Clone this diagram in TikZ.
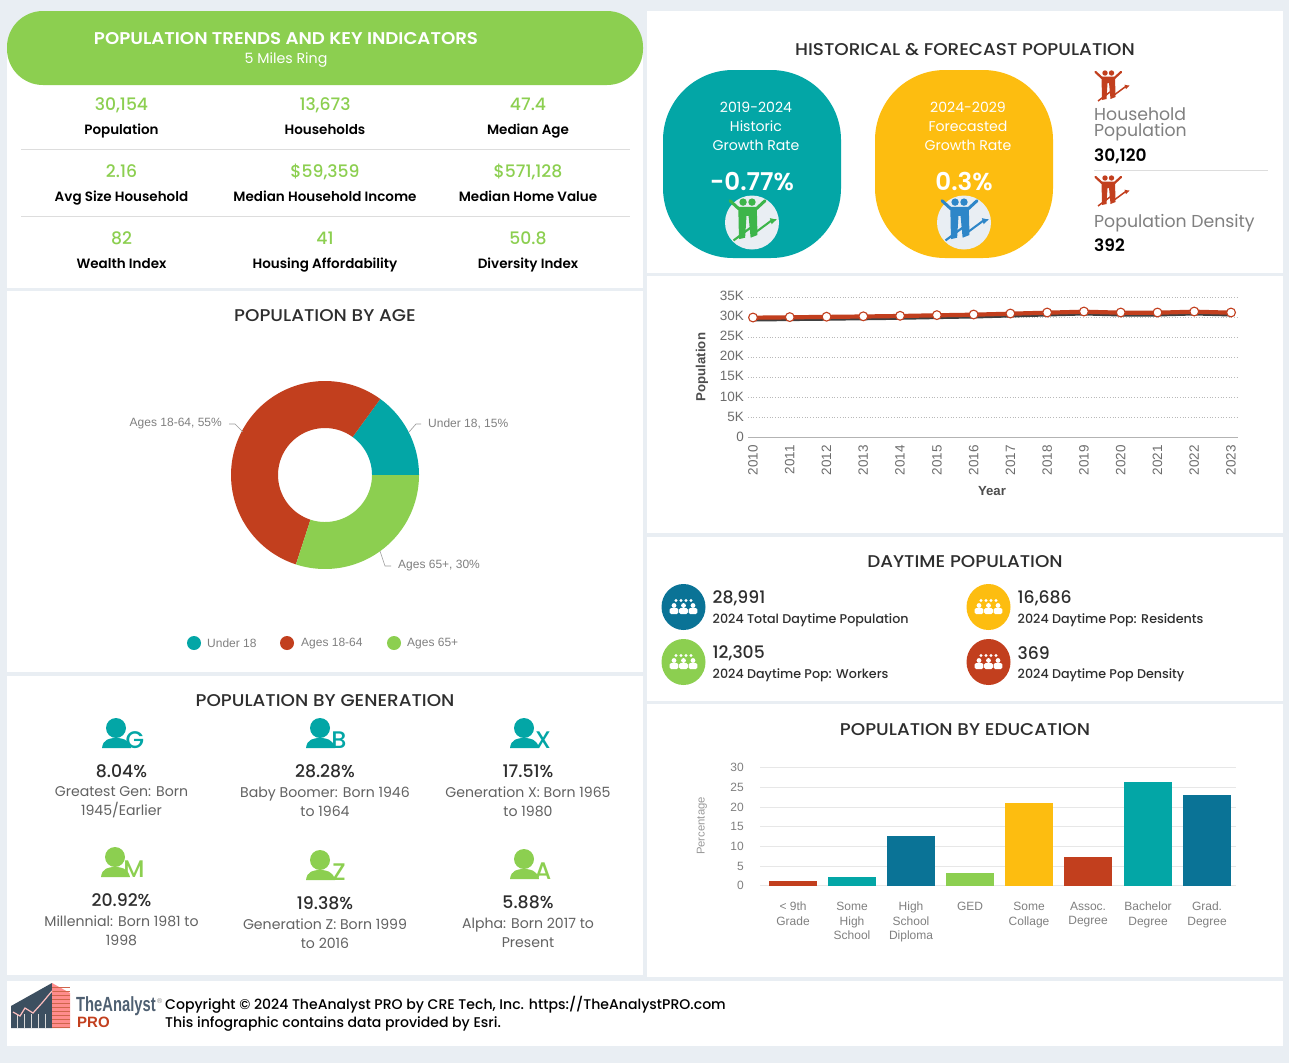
\documentclass[tikz,border=0pt]{standalone}
\usepackage{fontspec}
\setmainfont{Poppins}
\newfontfamily\semi{Poppins Medium}
\newfontfamily\semib{Poppins SemiBold}
\newfontfamily\arialf{Liberation Sans}
\usetikzlibrary{arrows.meta}
\definecolor{bgc}{HTML}{E9EEF3}
\definecolor{teal1}{HTML}{03A6A6}
\definecolor{yel1}{HTML}{FDBD10}
\definecolor{red1}{HTML}{C23F1E}
\definecolor{grn1}{HTML}{8CCF50}
\definecolor{blu1}{HTML}{0A7396}
\definecolor{ink}{HTML}{2E2E2E}
\definecolor{gry}{HTML}{808080}
\definecolor{rule1}{HTML}{DDDDDD}
\definecolor{logod}{HTML}{3C4F60}
\definecolor{logot}{HTML}{4F6072}
\definecolor{icong}{HTML}{3DB54A}
\definecolor{iconb}{HTML}{2E86C8}
\tikzset{
  panel/.style={fill=white,draw=none},
  title/.style={text=ink,font=\semi\fontsize{17}{20}\selectfont,inner sep=0pt,xscale=1.08},
  statval/.style={text=grn1,anchor=base,font=\semi\fontsize{17.2}{20}\selectfont,inner sep=0pt},
  statlab/.style={text=black,anchor=base,font=\semib\fontsize{13.5}{15}\selectfont,inner sep=0pt},
  genval/.style={text=ink,font=\semi\fontsize{17.3}{19}\selectfont,inner sep=0pt},
  gentxt/.style={text=ink!75,font=\fontsize{14.1}{19}\selectfont,inner sep=0pt,align=center},
  chartlab/.style={text=gry,font=\arialf\fontsize{12}{14.5}\selectfont,inner sep=0pt,align=center},
  axlab/.style={text=gry!85!black,font=\arialf\fontsize{13.5}{15}\selectfont,inner sep=0pt},
  axtitle/.style={text=ink!85,font=\arialf\bfseries\fontsize{13.2}{15}\selectfont,inner sep=0pt},
  daynum/.style={text=ink,anchor=west,font=\semi\fontsize{17.2}{20}\selectfont,inner sep=0pt},
  daylab/.style={text=ink,anchor=west,font=\semi\fontsize{12.7}{15}\selectfont,inner sep=0pt},
  blobtxt/.style={text=white,font=\fontsize{14.1}{19}\selectfont,inner sep=0pt,align=center},
  blobval/.style={text=white,font=\semib\fontsize{24.5}{27}\selectfont,inner sep=0pt},
  sidelab/.style={text=gry,anchor=west,font=\fontsize{17.3}{16.5}\selectfont,inner sep=0pt,align=left},
  sideval/.style={text=black,anchor=west,font=\semib\fontsize{17}{20}\selectfont,inner sep=0pt},
  grid1/.style={draw=gry!55,line width=.7pt,dotted},
  leader/.style={draw=gry!80,line width=.6pt},
  footxt/.style={text=black,anchor=west,font=\semi\fontsize{14.05}{16}\selectfont,inner sep=0pt},
}
\newcommand\growth[4]{% x y scale colour
\begin{scope}[shift={(#1,#2)},x=#3pt,y=-#3pt]
  \fill[#4] (11,3) circle[radius=2.7] (17.5,3) circle[radius=2.7];
  \draw[#4,line width=#3*2.2pt,line cap=round] (1.5,2) -- (8,8) (27,2) -- (20.5,8);
  \fill[#4] (7.5,6.5) -- (21,6.5) -- (21.5,27) -- (16.5,29) -- (15,13) -- (13.5,13) -- (12.5,29) -- (8,30) -- cycle;
  \draw[#4,line width=#3*1.5pt,-{Latex[length=#3*5pt,width=#3*5pt]}] (4,31) -- (16,22) -- (19.5,25.5) -- (31,17) -- (36,15.5);
\end{scope}}
\newcommand\crowd[2]{% centre
\begin{scope}[shift={(#1,#2)}]
  \foreach \q in {-7.5,-2.5,2.5,7.5}{\fill[white] (\q,-6.5) circle[radius=1.6];}
  \foreach \q in {-9.5,0,9.5}{
    \fill[white] (\q,-1.5) circle[radius=2.4];
    \fill[white,rounded corners=1.5pt] (\q-4.3,7) rectangle (\q+4.3,1);
  }
\end{scope}}
\newcommand\person[4]{% x y colour letter
\begin{scope}[shift={(#1,#2)}]
  \fill[#3] (0,-5) circle[radius=10];
  \fill[#3] (-14,15) .. controls (-13,6) and (-6,5) .. (0,5) .. controls (6,5) and (13,6) .. (15,15) -- cycle;
  \node[text=#3,font=\semi\fontsize{24}{26}\selectfont,inner sep=0pt,anchor=center] (let#4) at (19,7.5) {#4};
\end{scope}}
\newcommand\stat[5]{% name x y value label
\node[statval] (#1v) at (#2,#3+6) {#4};
\node[statlab] (#1l) at (#2,#3+30) {#5};}
\newcommand\sector[3]{% from to colour
\fill[#3] plot[domain=#1:#2,samples=70] (\x:94) -- plot[domain=#2:#1,samples=50] (\x:47) -- cycle;}
\newcommand\daycell[6]{% name x y colour number label
\fill[#4] (#2,#3) circle[x radius=22,y radius=23];
\crowd{#2}{#3}
\node[daynum] (#1n) at (#2+29,#3-8.5) {#5};
\node[daylab] (#1l) at (#2+29,#3+13) {#6};}
\begin{document}
\begin{tikzpicture}[x=1pt,y=-1pt]
\useasboundingbox (0,0) rectangle (1289,1063);
\fill[bgc] (0,0) rectangle (1289,1063);
% panels
\fill[panel] (7,48) rectangle (643,288);
\fill[panel] (7,291) rectangle (643,672);
\fill[panel] (7,676) rectangle (643,975);
\fill[panel] (647,11) rectangle (1283,273);
\fill[panel] (647,276) rectangle (1283,533);
\fill[panel] (647,537) rectangle (1283,701);
\fill[panel] (647,704) rectangle (1283,977);
\fill[panel] (7,981) rectangle (1283,1046);
% header
\fill[grn1,rounded corners=36pt] (7,11) rectangle (643,85);
\node[text=white,font=\semib\fontsize{17}{20}\selectfont,inner sep=0pt,xscale=1.07] (hd) at (286,39) {POPULATION TRENDS AND KEY INDICATORS};
\node[text=white,font=\fontsize{14.2}{16}\selectfont,inner sep=0pt] (hds) at (286,60.5) {5 Miles Ring};
% stats
\stat{a}{121.5}{104}{30,154}{Population}
\stat{b}{325}{104}{13,673}{Households}
\stat{c}{528}{104}{47.4}{Median Age}
\stat{d}{121.5}{171}{2.16}{Avg Size Household}
\stat{e}{325}{171}{\$59,359}{Median Household Income}
\stat{f}{528}{171}{\$571,128}{Median Home Value}
\stat{g}{121.5}{238}{82}{Wealth Index}
\stat{h}{325}{238}{41}{Housing Affordability}
\stat{i}{528}{238}{50.8}{Diversity Index}
\draw[rule1] (21,149) -- (630,149);
\draw[rule1] (21,216) -- (630,216);
% age
\node[title] (tage) at (325,316) {POPULATION BY AGE};
\begin{scope}[shift={(325,475)}]
  \sector{-54}{0}{teal1}
  \sector{-252}{-54}{red1}
  \sector{0}{108}{grn1}
\end{scope}
\node[chartlab,anchor=east] (l1864) at (222,424) {Ages 18-64, 55\%};
\node[chartlab,anchor=west] (lu18) at (428,424) {Under 18, 15\%};
\node[chartlab,anchor=west] (l65) at (398,566) {Ages 65+, 30\%};
\draw[leader] (l1864.east)+(7,0) -- ++(13,0) -- (243,432);
\draw[leader] (lu18.west)+(-7,0) -- ++(-12,0) -- (409,432);
\draw[leader] (l65.west)+(-7,0) -- ++(-13,0) -- (380,551);
\fill[teal1] (194,643) circle[radius=7];
\node[chartlab,anchor=west] (lg1) at (207,643.5) {Under 18};
\fill[red1] (287,643) circle[radius=7];
\node[chartlab,anchor=west] (lg2) at (301,643.5) {Ages 18-64};
\fill[grn1] (394,643) circle[radius=7];
\node[chartlab,anchor=west] (lg3) at (407,643.5) {Ages 65+};
% generation
\node[title] (tgen) at (325,701) {POPULATION BY GENERATION};
\person{116}{733}{teal1}{G}
\person{320}{733}{teal1}{B}
\person{524}{733}{teal1}{X}
\person{115}{862}{grn1}{M}
\person{320}{865}{grn1}{Z}
\person{524}{864}{grn1}{A}
\node[genval] (g1v) at (121.5,771) {8.04\%};
\node[gentxt] (g1t) at (121.5,802) {Greatest Gen: Born\\1945/Earlier};
\node[genval] (g2v) at (325,771) {28.28\%};
\node[gentxt] (g2t) at (325,802) {Baby Boomer: Born 1946\\to 1964};
\node[genval] (g3v) at (528,771) {17.51\%};
\node[gentxt] (g3t) at (528,802) {Generation X: Born 1965\\to 1980};
\node[genval] (g4v) at (121.5,900) {20.92\%};
\node[gentxt] (g4t) at (121.5,931) {Millennial: Born 1981 to\\1998};
\node[genval] (g5v) at (325,903) {19.38\%};
\node[gentxt] (g5t) at (325,934) {Generation Z: Born 1999\\to 2016};
\node[genval] (g6v) at (528,902) {5.88\%};
\node[gentxt] (g6t) at (528,933) {Alpha: Born 2017 to\\Present};
% historical
\node[title] (thist) at (965,50) {HISTORICAL \& FORECAST POPULATION};
\fill[teal1,rounded corners=70pt] (663,70) rectangle (841,258);
\fill[yel1,rounded corners=70pt] (875,70) rectangle (1053,258);
\node[blobtxt] (b1) at (756,126) {2019-2024\\Historic\\Growth Rate};
\node[blobtxt] (b2) at (968,126) {2024-2029\\Forecasted\\Growth Rate};
\node[blobval] (b1v) at (752,181.5) {-0.77\%};
\node[blobval] (b2v) at (964,181.5) {0.3\%};
\fill[bgc] (752,222.5) circle[radius=27];
\fill[bgc] (964,222.5) circle[radius=27];
\growth{728}{198}{1.37}{icong}
\growth{940}{198}{1.37}{iconb}
\growth{1094}{70}{1}{red1}
\growth{1094}{175}{1}{red1}
\node[sidelab] (s1) at (1094,124.5) {Household\\Population};
\node[sideval] (s1v) at (1094,156) {30,120};
\draw[rule1] (1094,170) -- (1268,170);
\node[sidelab] (s2) at (1094,223) {Population Density};
\node[sideval] (s2v) at (1094,245) {392};
% line chart
\foreach \v/\lab in {0/35K,1/30K,2/25K,3/20K,4/15K,5/10K,6/5K}{
  \draw[grid1] (748,297+20.1*\v) -- (1238,297+20.1*\v);
  \node[axlab,anchor=east] (yt\v) at (744,296+20.1*\v) {\lab};
}
\node[axlab,anchor=east] (yt7) at (744,437) {0};
\draw[gry!60,line width=1.4pt] (748,437.7) -- (1238,437.7);
\foreach \i in {0,...,13}{
  \pgfmathtruncatemacro\yr{2010+\i}
  \node[axlab,rotate=90,anchor=east] (xt\i) at (753+36.77*\i,445) {\yr};
}
\node[axtitle,rotate=90] (ya) at (702,367) {Population};
\node[axtitle] (xa) at (992,491) {Year};
\def\ldata{{318,317.6,317.2,316.8,316.3,315.6,315,314,313,312,313,313,312,313}}
\draw[black!75,line width=3pt] plot[samples at={0,...,13}] ({753+36.77*\x},{2+\ldata[\x]});
\draw[red1,line width=4.2pt] plot[samples at={0,...,13}] ({753+36.77*\x},{\ldata[\x]-.3});
\foreach \i in {0,...,13}{
  \pgfmathsetmacro\ly{\ldata[\i]-0.5}
  \fill[white,draw=red1,line width=1.1pt] (753+36.77*\i,\ly) circle[radius=4.4];
}
% daytime
\node[title] (tday) at (965,562) {DAYTIME POPULATION};
\daycell{d1}{683.5}{607}{blu1}{28,991}{2024 Total Daytime Population}
\daycell{d2}{988.5}{607}{yel1}{16,686}{2024 Daytime Pop: Residents}
\daycell{d3}{683.5}{662}{grn1}{12,305}{2024 Daytime Pop: Workers}
\daycell{d4}{988.5}{662}{red1}{369}{2024 Daytime Pop Density}
% education
\node[title] (tedu) at (965,730) {POPULATION BY EDUCATION};
\foreach \v/\lab in {0/30,1/25,2/20,3/15,4/10,5/5,6/0}{
  \draw[rule1!70,line width=.7pt] (760,767.5+19.7*\v) -- (1236,767.5+19.7*\v);
  \node[chartlab,anchor=east] (ey\v) at (744,767.5+19.7*\v) {\lab};
}
\node[chartlab,font=\arialf\fontsize{11.3}{13}\selectfont,text=gry!80,rotate=90] (eya) at (702,826) {Percentage};
\newcommand\ebar[4]{\fill[#4] (#1,#3) rectangle (#1+48,886);
  \node[chartlab,anchor=north] (eb#1) at (#1+24,902) {#2};}
\ebar{769}{< 9th\\Grade}{881}{red1}
\ebar{828}{Some\\High\\School}{877}{teal1}
\ebar{887}{High\\School\\Diploma}{836}{blu1}
\ebar{946}{GED}{873}{grn1}
\ebar{1005}{Some\\Collage}{803}{yel1}
\ebar{1064}{Assoc.\\Degree}{857}{red1}
\ebar{1124}{Bachelor\\Degree}{782}{teal1}
\ebar{1183}{Grad.\\Degree}{795}{blu1}
% footer
\fill[logod] (11,1028) -- (11,1006) -- (52,983) -- (52,1028) -- cycle;
\fill[red!45!white] (52,983) -- (70,993) -- (70,1028) -- (52,1028) -- cycle;
\foreach \q in {987,991,...,1027}{\draw[red1!80,line width=.7pt] (52,\q) -- (70,\q);}
\foreach \q in {17,24,31,38,45}{\draw[white!70!gray,line width=1pt] (\q,1014) -- (\q,1028);}
\draw[red!25!white,line width=1.2pt] (13,1012) -- (20,1016) -- (25,1008) -- (33,1013) -- (42,1003) -- (52,991);
\node[anchor=west,inner sep=0pt,text=logot,xscale=.72,font=\arialf\bfseries\fontsize{20.5}{22}\selectfont] (ta) at (76,1006) {TheAnalyst};
\node[anchor=west,inner sep=0pt,text=gray,font=\arialf\fontsize{7}{8}\selectfont] (tr) at (157,1001) {®};
\node[anchor=west,inner sep=0pt,text=red1,font=\arialf\bfseries\fontsize{15}{16}\selectfont] (pro) at (77,1022) {PRO};
\node[footxt] (f1) at (165,1005) {Copyright © 2024 TheAnalyst PRO by CRE Tech, Inc. https://TheAnalystPRO.com};
\node[footxt] (f2) at (165,1024) {This infographic contains data provided by Esri.};
\end{tikzpicture}
\end{document}
